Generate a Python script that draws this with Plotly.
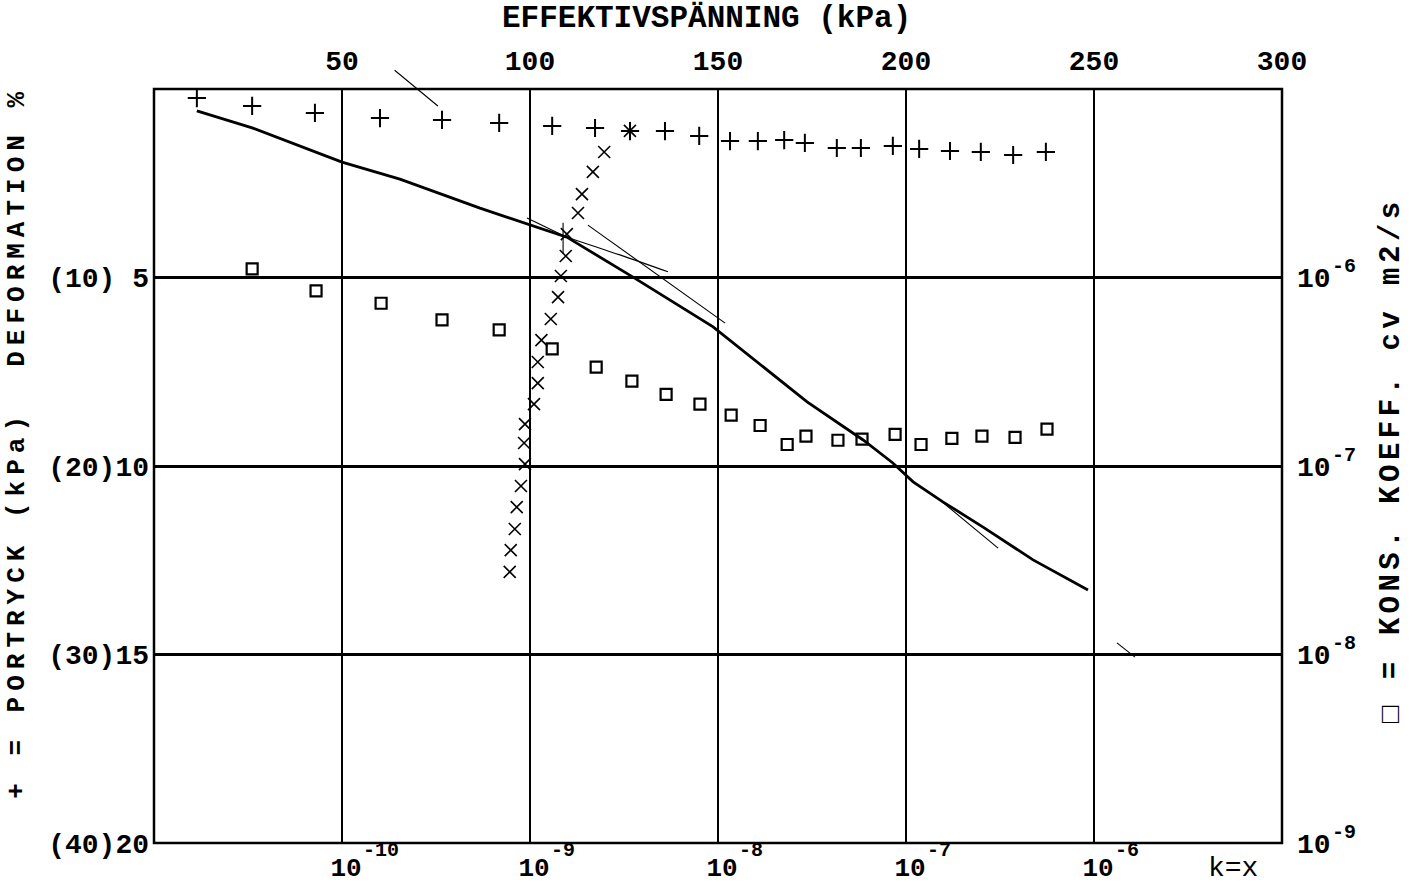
import plotly.graph_objects as go

# ---------------- data ----------------
# + : pore pressure (kPa) vs effective stress (kPa)
stress_plus = [11.4, 26.1, 42.8, 60.1, 76.6, 91.8, 105.9, 117.3, 126.6, 135.9, 145.0, 153.2,
               160.6, 167.6, 173.1, 181.6, 188.0, 196.5, 203.5, 211.7, 219.9, 228.5, 237.2]
pore_kpa = [0.48, 0.90, 1.27, 1.54, 1.64, 1.80, 1.96, 2.07, 2.23, 2.23, 2.49, 2.76,
            2.76, 2.71, 2.86, 3.13, 3.13, 3.02, 3.18, 3.29, 3.34, 3.50, 3.34]

# square : consolidation coefficient cv (m2/s) vs effective stress (kPa)
stress_sq = [26.1, 43.1, 60.4, 76.6, 91.8, 105.9, 117.6, 127.1, 136.2, 145.2, 153.5,
             161.2, 168.4, 173.4, 181.9, 188.3, 197.1, 204.0, 212.2, 220.2, 229.0, 237.5]
cv = [1.11e-6, 8.5e-7, 7.3e-7, 5.96e-7, 5.27e-7, 4.18e-7, 3.35e-7, 2.82e-7, 2.40e-7,
      2.13e-7, 1.86e-7, 1.64e-7, 1.30e-7, 1.44e-7, 1.37e-7, 1.39e-7, 1.47e-7, 1.30e-7,
      1.40e-7, 1.44e-7, 1.42e-7, 1.57e-7]

# x : permeability k (m/s) vs deformation (%)
k_perm = [3.40e-9, 2.48e-9, 2.16e-9, 1.89e-9, 1.80e-9, 1.57e-9, 1.55e-9, 1.46e-9,
          1.41e-9, 1.29e-9, 1.15e-9, 1.10e-9, 1.10e-9, 1.05e-9, 9.4e-10, 9.3e-10,
          9.4e-10, 8.95e-10, 8.5e-10, 8.3e-10, 7.9e-10, 7.8e-10]
def_k = [1.11, 1.67, 2.20, 2.79, 3.29, 3.85, 4.43, 4.96, 5.52, 6.10, 6.66, 7.24,
         7.80, 8.36, 8.89, 9.39, 9.95, 10.53, 11.09, 11.67, 12.23, 12.81]

# deformation curve (%) vs effective stress (kPa)
stress_curve = [11.4, 26.1, 50.0, 65.4, 86.7, 100.0, 109.8, 127.4, 148.7, 173.7, 188.6,
                196.5, 201.9, 209.8, 220.5, 233.8, 248.4]
def_curve = [0.58, 1.03, 1.94, 2.39, 3.16, 3.61, 3.93, 4.99, 6.31, 8.30, 9.31,
             9.92, 10.42, 10.95, 11.62, 12.49, 13.29]

# thin construction lines (stress kPa, deformation %)
lineA_s = [99.2, 109.8]
lineA_d = [3.42, 3.93]
lineB_s = [109.8, 123.9, 136.7]
lineB_d = [3.93, 4.40, 4.85]
lineC_s = [115.4, 151.9]
lineC_d = [3.61, 6.21]
lineD_s = [209.6, 224.5]
lineD_d = [10.95, 12.18]
lineE_s = [256.1, 260.9]
lineE_d = [14.69, 15.07]
lineG_s = [108.8, 108.8]
lineG_d = [3.55, 4.35]
lineF_s = [63.6, 75.5]
lineF_d = [-0.53, 0.45]

# ticks
stress_ticks = [50, 100, 150, 200, 250, 300]
def_ticks = [5, 10, 15, 20]
def_ticktext = ["(10) 5", "(20)10", "(30)15", "(40)20"]
k_exps = [-10, -9, -8, -7, -6]
cv_exps = [-6, -7, -8, -9]

FONT = "Liberation Mono"
tickfont = dict(family=FONT, size=28, color="black", weight="bold")
bottomfont = dict(family=FONT, size=26, color="black", weight="bold")
expfont = dict(family=FONT, size=20, color="black", weight="bold")

fig = go.Figure()

fig.add_trace(go.Scatter(x=stress_curve, y=def_curve, xaxis="x2", yaxis="y", mode="lines",
                         line=dict(color="black", width=2.8), showlegend=False))
for xs, ys in [(lineA_s, lineA_d), (lineB_s, lineB_d), (lineC_s, lineC_d),
               (lineD_s, lineD_d), (lineE_s, lineE_d), (lineG_s, lineG_d)]:
    fig.add_trace(go.Scatter(x=xs, y=ys, xaxis="x2", yaxis="y", mode="lines",
                             line=dict(color="black", width=1.1, shape="spline"), showlegend=False))

fig.add_trace(go.Scatter(x=stress_plus, y=pore_kpa, xaxis="x2", yaxis="y3", mode="markers",
                         marker=dict(symbol="cross-thin", size=13, line=dict(color="black", width=2)),
                         showlegend=False))
fig.add_trace(go.Scatter(x=stress_sq, y=cv, xaxis="x2", yaxis="y2", mode="markers",
                         marker=dict(symbol="square-open", size=11, color="black",
                                     line=dict(color="black", width=2.2)),
                         showlegend=False))
fig.add_trace(go.Scatter(x=k_perm, y=def_k, xaxis="x", yaxis="y", mode="markers",
                         marker=dict(symbol="x-thin", size=12, line=dict(color="black", width=1.6)),
                         showlegend=False))

annotations = [
    dict(text="EFFEKTIVSPÄNNING (kPa)", xref="paper", yref="paper", x=0.490, y=1.094,
         showarrow=False, xanchor="center", yanchor="middle",
         font=dict(family=FONT, size=31, color="black", weight="bold")),
    dict(text="+ = PORTRYCK (kPa)  DEFORMATION %", xref="paper", yref="paper",
         x=-0.1215, y=0.532, textangle=-90, showarrow=False,
         xanchor="center", yanchor="middle",
         font=dict(family=FONT, size=26, color="black", weight="bold")),
    dict(text="□ = KONS. KOEFF. cv m2/s", xref="paper", yref="paper",
         x=1.0975, y=0.508, textangle=-90, showarrow=False,
         xanchor="center", yanchor="middle",
         font=dict(family=FONT, size=29, color="black", weight="bold")),
    dict(text="k=x", xref="paper", yref="paper", x=0.9566, y=-0.0332,
         showarrow=False, xanchor="center", yanchor="middle",
         font=dict(family=FONT, size=28, color="black")),
    dict(text=" ", x=lineF_s[1], y=lineF_d[1], ax=lineF_s[0], ay=lineF_d[0],
         xref="x2", yref="y", axref="x2", ayref="y", showarrow=True, arrowhead=0,
         arrowwidth=1.1, arrowcolor="black", standoff=0, startstandoff=0,
         font=dict(size=1)),
]
# exponents of the power-of-ten tick labels (log axes take log10 positions)
for e in k_exps:
    annotations.append(dict(text=str(e), xref="x", yref="paper", x=e, y=-0.0093,
                            xanchor="left", yanchor="middle", xshift=19, showarrow=False,
                            font=expfont))
for e in cv_exps:
    annotations.append(dict(text=str(e), xref="paper", yref="y2", x=1.0425, y=e,
                            xanchor="left", yanchor="middle", yshift=11, showarrow=False,
                            font=expfont))

fig.update_layout(
    width=1411, height=885,
    margin=dict(l=154, r=129, t=89, b=42, autoexpand=False),
    paper_bgcolor="white", plot_bgcolor="white",
    showlegend=False,
    xaxis=dict(type="log", range=[-11, -5], tickvals=[10.0 ** e for e in k_exps],
               ticktext=["10" for e in k_exps], tickfont=bottomfont,
               showgrid=False, zeroline=False, showline=False, ticks="",
               ticklabelstandoff=6, ticklabelshift=4, automargin=False),
    xaxis2=dict(overlaying="x", side="top", range=[0, 300], tickvals=stress_ticks,
                tickfont=tickfont, showgrid=True, gridcolor="black", gridwidth=1.5,
                zeroline=False, showline=False, ticks="", ticklabelstandoff=12,
                automargin=False),
    yaxis=dict(range=[20, 0], tickvals=def_ticks, ticktext=def_ticktext, tickfont=tickfont,
               showgrid=True, gridcolor="black", gridwidth=3, zeroline=False,
               showline=False, ticks="", ticklabelstandoff=4, automargin=False),
    yaxis2=dict(type="log", range=[-9, -5], overlaying="y", side="right",
                tickvals=[10.0 ** e for e in cv_exps], ticktext=["10" for e in cv_exps],
                tickfont=tickfont, showgrid=False, zeroline=False, showline=False, ticks="",
                ticklabelstandoff=14, automargin=False),
    yaxis3=dict(range=[40, 0], overlaying="y", visible=False, automargin=False),
    shapes=[dict(type="rect", xref="paper", yref="paper", x0=0, x1=1, y0=0, y1=1,
                 line=dict(color="black", width=2.5), layer="above")],
    annotations=annotations,
)

post_js = """
document.querySelectorAll('.annotation-text').forEach(function(t){
  var s = t.textContent || '';
  if (s.indexOf('DEFORMATION') >= 0) { t.style.letterSpacing = '6px'; }
  else if (s.indexOf('KONS') >= 0) { t.style.letterSpacing = '4.5px'; }
});
"""

fig.write_html("out.html", post_script=post_js)
